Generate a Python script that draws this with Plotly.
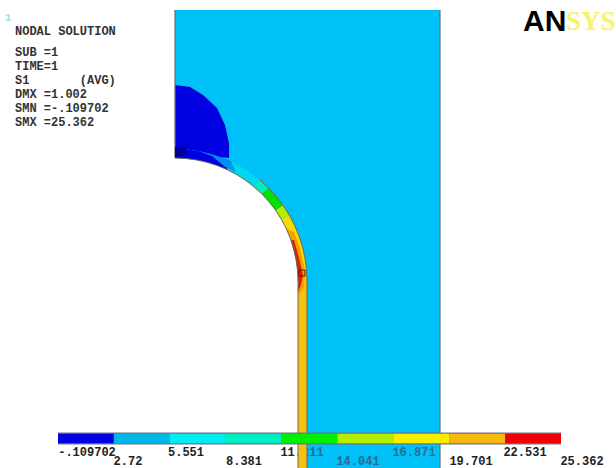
import plotly.graph_objects as go

# contour levels and legend colours
levels = [-0.109702, 2.72, 5.551, 8.381, 11.211, 14.041, 16.871, 19.701, 22.531, 25.362]
level_labels = ["-.109702", "2.72", "5.551", "8.381", "11.<span style='fill:#2a6a96'>211</span>", "14.041", "16.871", "19.701", "22.531", "25.362"]
level_colors = ["#0000e0", "#00b8e8", "#00eef0", "#00eec4", "#00ee00", "#b4ee00", "#f8ee00", "#f8b810", "#ee0000"]
label_x = [87, 128, 186, 244, 302, 358, 414, 471, 525, 582]
label_y = [453, 462, 453, 462, 453, 462, 453, 462, 453, 462]
label_colors = ["#222", "#222", "#222", "#222", "#222", "#2a6a96", "#2a6a96", "#222", "#222", "#222"]

info_lines = ["NODAL SOLUTION", "SUB =1", "TIME=1", "S1\u00a0\u00a0\u00a0\u00a0\u00a0\u00a0\u00a0(AVG)", "DMX =1.002", "SMN =-.109702", "SMX =25.362"]
info_y = [32, 53, 67, 81, 95, 109, 123]

# outline of the model
wall_x = [175, 440, 440, 175, 175]
wall_y = [10, 10, 468, 468, 10]
left_edge_x = [175, 175]
left_edge_y = [10, 158]
right_edge_x = [440, 440]
right_edge_y = [10, 468]
hole_x = [175, 185.7, 196.4, 206.8, 217, 227, 236.5, 245.5, 254, 262, 269.2, 275.8, 281.5, 286.5, 290.6, 293.8, 296.1, 297.5, 298, 298, 175]
hole_y = [158, 158.5, 159.9, 162.2, 165.4, 169.5, 174.5, 180.2, 186.8, 194, 201.9, 210.5, 219.5, 229, 239, 249.2, 259.6, 270.3, 281, 468, 468]
inner_x = hole_x[:19]
inner_y = hole_y[:19]
outer_x = [175, 186.5, 197.9, 209.2, 220.1, 230.8, 241, 250.7, 259.8, 268.3, 276.1, 283.1, 289.3, 294.6, 299, 302.5, 305, 306.5, 307]
outer_y = [149, 149.5, 151, 153.5, 157, 161.4, 166.7, 172.9, 179.9, 187.7, 196.2, 205.3, 215, 225.2, 235.9, 246.8, 258.1, 269.5, 281]
tube_x = [298, 307, 307, 298]
tube_y = [281, 281, 468, 468]

blob_x = [175, 190, 203, 217, 225, 229, 229, 220, 209, 198, 187, 175]
blob_y = [85, 87, 95, 108, 125, 143, 158, 157, 153.5, 151, 149.5, 149]
mid_blue_x = [198, 209, 220, 231, 236, 225, 212]
mid_blue_y = [151, 153.5, 157, 161.4, 172, 167, 156]
dark_x = [175, 186, 188, 176, 175]
dark_y = [147, 147, 153, 158, 158]
red_x = [291, 295.5, 298, 298, 301, 303, 299, 294]
red_y = [240, 258, 272, 292, 285, 275, 258, 240]
orange_x = [287, 291, 296, 298, 298, 304, 305, 300, 294]
orange_y = [229, 239, 258, 272, 296, 288, 270, 248, 232]
node_x = [302]
node_y = [273]

# bands along the shell: start station, end station, colour
band_start = [0, 5, 8, 9, 11, 12]
band_end = [5, 8, 9, 11, 12, 18]
band_color = ["#0000e0", "#00d8f0", "#00eec4", "#00e000", "#b4ee00", "#f8dc00"]

CYAN = "#00c0f8"
TUBE = "#f8c010"
EDGE = "#6a6a50"
MONO = "Liberation Mono"

fig = go.Figure()


def poly(x, y, color):
    fig.add_trace(go.Scatter(x=x, y=y, mode="lines", fill="toself", fillcolor=color,
                             line=dict(color=color, width=0), hoverinfo="skip"))


poly(wall_x, wall_y, CYAN)
poly(hole_x, hole_y, "#ffffff")
poly(blob_x, blob_y, "#0000e0")
for lx, ly in ((left_edge_x, left_edge_y), (right_edge_x, right_edge_y)):
    fig.add_trace(go.Scatter(x=lx, y=ly, mode="lines", line=dict(color="#5a7080", width=1.2), hoverinfo="skip"))

# legend labels are drawn below the tube, which hides part of 11.211
fig.add_trace(go.Scatter(x=label_x, y=label_y, mode="text", text=level_labels, textposition="middle center",
                         textfont=dict(family=MONO, size=12, color=label_colors, weight="bold"), hoverinfo="skip"))

for s, e, c in zip(band_start, band_end, band_color):
    poly(inner_x[s:e + 1] + outer_x[s:e + 1][::-1], inner_y[s:e + 1] + outer_y[s:e + 1][::-1], c)
poly(inner_x[17:] + outer_x[17:][::-1], inner_y[17:] + outer_y[17:][::-1], TUBE)
poly(mid_blue_x, mid_blue_y, "#0090e8")
poly(tube_x, tube_y, TUBE)
poly(orange_x, orange_y, "#f8a000")
poly(red_x, red_y, "#dc2008")
poly(dark_x, dark_y, "#000098")

for lx, ly in ((inner_x + [298], inner_y + [468]), (outer_x[8:] + [307], outer_y[8:] + [468])):
    fig.add_trace(go.Scatter(x=lx, y=ly, mode="lines", line=dict(color=EDGE, width=1), hoverinfo="skip"))
fig.add_trace(go.Scatter(x=node_x, y=node_y, mode="markers",
                         marker=dict(symbol="square-open", size=6, color="#402020", line=dict(width=1)), hoverinfo="skip"))

# info block
fig.add_trace(go.Scatter(x=[15] * len(info_lines), y=info_y, mode="text", text=info_lines, textposition="middle right",
                         textfont=dict(family=MONO, size=12, color="#333333", weight="bold"), hoverinfo="skip"))
fig.add_trace(go.Scatter(x=[8], y=[18], mode="text", text=["1"], textposition="middle center",
                         textfont=dict(family=MONO, size=11, color="#a8d8e8", weight="bold"), hoverinfo="skip"))
# logo
fig.add_trace(go.Scatter(x=[523], y=[23], mode="text", text=["AN"], textposition="middle right",
                         textfont=dict(family="Liberation Sans", size=30, color="#000000", weight="bold"), hoverinfo="skip"))
fig.add_trace(go.Scatter(x=[566], y=[23], mode="text", text=["SYS"], textposition="middle right",
                         textfont=dict(family="Liberation Serif", size=27, color="#f6f26a", weight="bold"), hoverinfo="skip"))

# legend strip on an overlaid value axis
fig.add_trace(go.Bar(y=[438.5], x=[levels[-1] - levels[0]], base=[levels[0]], width=[12], orientation="h",
                     marker=dict(color="#70708c", line=dict(width=0)), xaxis="x2", hoverinfo="skip"))
for i, c in enumerate(level_colors):
    fig.add_trace(go.Bar(y=[438.5], x=[levels[i + 1] - levels[i]], base=[levels[i]], width=[9.5], orientation="h",
                         marker=dict(color=c, line=dict(width=0)), xaxis="x2", hoverinfo="skip"))

value_per_px = (levels[-1] - levels[0]) / 503
fig.update_layout(
    width=616, height=468, margin=dict(l=0, r=0, t=0, b=0), showlegend=False,
    paper_bgcolor="#ffffff", plot_bgcolor="#ffffff", barmode="overlay",
    xaxis=dict(range=[0, 616], visible=False, fixedrange=True),
    xaxis2=dict(range=[levels[0] - 58 * value_per_px, levels[-1] + 55 * value_per_px],
                overlaying="x", visible=False, fixedrange=True),
    yaxis=dict(range=[468, 0], visible=False, fixedrange=True),
)
fig.write_html("out.html", post_script="document.body.style.margin='0';document.body.style.overflow='hidden';",
               config={"displayModeBar": False})
